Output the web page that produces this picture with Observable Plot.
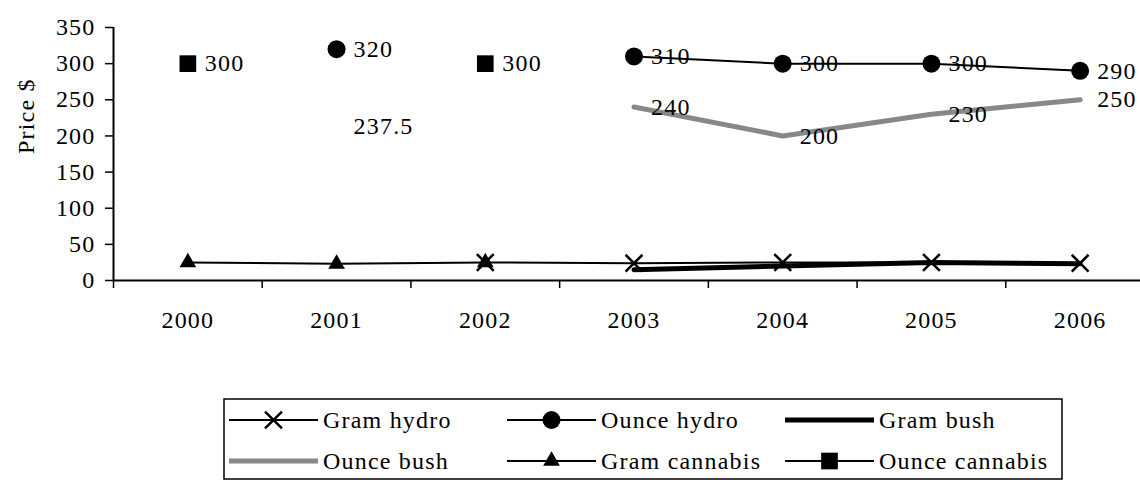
<!DOCTYPE html>
<html>
<head>
<meta charset="utf-8">
<script src="https://cdn.jsdelivr.net/npm/d3@7"></script>
<script src="https://cdn.jsdelivr.net/npm/@observablehq/plot@0.6"></script>
<style>
  html, body { margin: 0; padding: 0; background: white; }
  #chart svg { display: block; }
</style>
</head>
<body>
<div id="chart"></div>
<script>
// ---- data ----
const years = [2000, 2001, 2002, 2003, 2004, 2005, 2006];
const gramHydro     = [null, null, 25, 24, 25, 25, 24];
const ounceHydro    = [null, 320, null, 310, 300, 300, 290];
const gramBush      = [null, null, null, 15, 20, 25, 23];
const ounceBush     = [null, 237.5, null, 240, 200, 230, 250];
const gramCannabis  = [25, 23, 25, null, null, null, null];
const ounceCannabis = [300, null, 300, null, null, null, null];
const yTicks = [0, 50, 100, 150, 200, 250, 300, 350];
const seriesNames = ["Gram hydro", "Ounce hydro", "Gram bush", "Ounce bush", "Gram cannabis", "Ounce cannabis"];

const FONT = "Liberation Serif";
const GRAY = "#888888";
const boundaries = d3.range(years.length + 1).map(i => years[0] - 0.5 + i);
const fmt = v => (v == null ? null : String(v));
const isolated = arr => arr.map((v, i) => v != null && arr[i - 1] == null && arr[i + 1] == null);
const connected = arr => { const iso = isolated(arr); return arr.map((v, i) => (iso[i] ? null : v)); };
const bushIso = isolated(ounceBush);

const plot = Plot.plot({
  width: 1140,
  height: 390,
  marginLeft: 113,
  marginRight: 0,
  marginTop: 27,
  marginBottom: 110,
  style: { fontFamily: FONT, fontSize: "24px", letterSpacing: "1.2px", color: "black", background: "white" },
  x: { type: "linear", domain: [boundaries[0], boundaries[boundaries.length - 1]], range: [113, 1154], label: null },
  y: { domain: [0, 350], label: null },
  marks: [
    Plot.axisY({ ticks: yTicks, tickSize: 8, tickPadding: 10, tickFormat: d => String(d), strokeWidth: 1.5 }),
    Plot.axisX({ ticks: boundaries, tickSize: 8, tickFormat: () => "", strokeWidth: 1.5 }),
    Plot.axisX({ ticks: years, tickSize: 0, tickPadding: 30, tickFormat: d => String(d) }),
    Plot.ruleX([boundaries[0]], { stroke: "black", strokeWidth: 2 }),
    Plot.ruleY([0], { stroke: "black", strokeWidth: 2 }),
    Plot.text(["Price $"], { frameAnchor: "left", rotate: -90, dx: -87 }),
    // lines
    Plot.line(years, { x: years, y: connected(gramHydro), stroke: "black", strokeWidth: 2 }),
    Plot.line(years, { x: years, y: connected(ounceHydro), stroke: "black", strokeWidth: 2 }),
    Plot.line(years, { x: years, y: connected(gramBush), stroke: "black", strokeWidth: 5 }),
    Plot.line(years, { x: years, y: connected(ounceBush), stroke: GRAY, strokeWidth: 5 }),
    Plot.line(years, { x: years, y: connected(gramCannabis), stroke: "black", strokeWidth: 2 }),
    Plot.line(years, { x: years, y: connected(ounceCannabis), stroke: "black", strokeWidth: 2 }),
    // markers
    Plot.dot(years, { x: years, y: gramHydro, symbol: "times", r: 7.7, stroke: "black", strokeWidth: 2.5 }),
    Plot.dot(years, { x: years, y: ounceHydro, symbol: "circle", r: 9, fill: "black", stroke: "none" }),
    Plot.dot(years, { x: years, y: gramCannabis, symbol: "triangle", r: 6.2, fill: "black", stroke: "none" }),
    Plot.dot(years, { x: years, y: ounceCannabis, symbol: "square", r: 9.4, fill: "black", stroke: "none" }),
    // data labels
    Plot.text(years, { x: years, y: ounceHydro, text: ounceHydro.map(fmt), textAnchor: "start", dx: 17 }),
    Plot.text(years, { x: years, y: ounceCannabis, text: ounceCannabis.map(fmt), textAnchor: "start", dx: 17 }),
    Plot.text(years, { x: years, y: ounceBush, text: ounceBush.map(fmt), filter: (d, i) => !bushIso[i], textAnchor: "start", dx: 17 }),
    Plot.text(years, { x: years, y: ounceBush, text: ounceBush.map(fmt), filter: (d, i) => bushIso[i], textAnchor: "start", dx: 17, dy: 17 })
  ]
});
document.getElementById("chart").appendChild(plot);

// ---- legend (below the plot) ----
const legend = d3.select("#chart").append("svg")
  .attr("width", 1140).attr("height", 90)
  .style("display", "block")
  .attr("font-family", FONT).attr("font-size", 24).style("letter-spacing", "1.2px");

legend.append("rect")
  .attr("x", 224).attr("y", 9).attr("width", 838).attr("height", 80)
  .attr("fill", "white").attr("stroke", "black").attr("stroke-width", 1.5);

const styles = [
  { stroke: "black", width: 2, symbol: d3.symbolTimes, size: 188, markerStroke: true },
  { stroke: "black", width: 2, symbol: d3.symbolCircle, size: 254 },
  { stroke: "black", width: 5 },
  { stroke: GRAY, width: 5 },
  { stroke: "black", width: 2, symbol: d3.symbolTriangle, size: 121 },
  { stroke: "black", width: 2, symbol: d3.symbolSquare, size: 278 }
];
const colX = [229, 507, 785];
const rowY = [30, 71];
seriesNames.forEach((name, i) => {
  const s = styles[i];
  const x0 = colX[i % 3], y = rowY[Math.floor(i / 3)];
  const g = legend.append("g");
  g.append("line").attr("x1", x0).attr("x2", x0 + 89).attr("y1", y).attr("y2", y)
    .attr("stroke", s.stroke).attr("stroke-width", s.width);
  if (s.symbol) {
    const p = g.append("path").attr("d", d3.symbol(s.symbol, s.size)())
      .attr("transform", `translate(${x0 + 44.5},${y})`);
    if (s.markerStroke) p.attr("fill", "none").attr("stroke", "black").attr("stroke-width", 2.5);
    else p.attr("fill", "black");
  }
  g.append("text").attr("x", x0 + 94).attr("y", y).attr("dy", "0.35em").text(name);
});
</script>
</body>
</html>
